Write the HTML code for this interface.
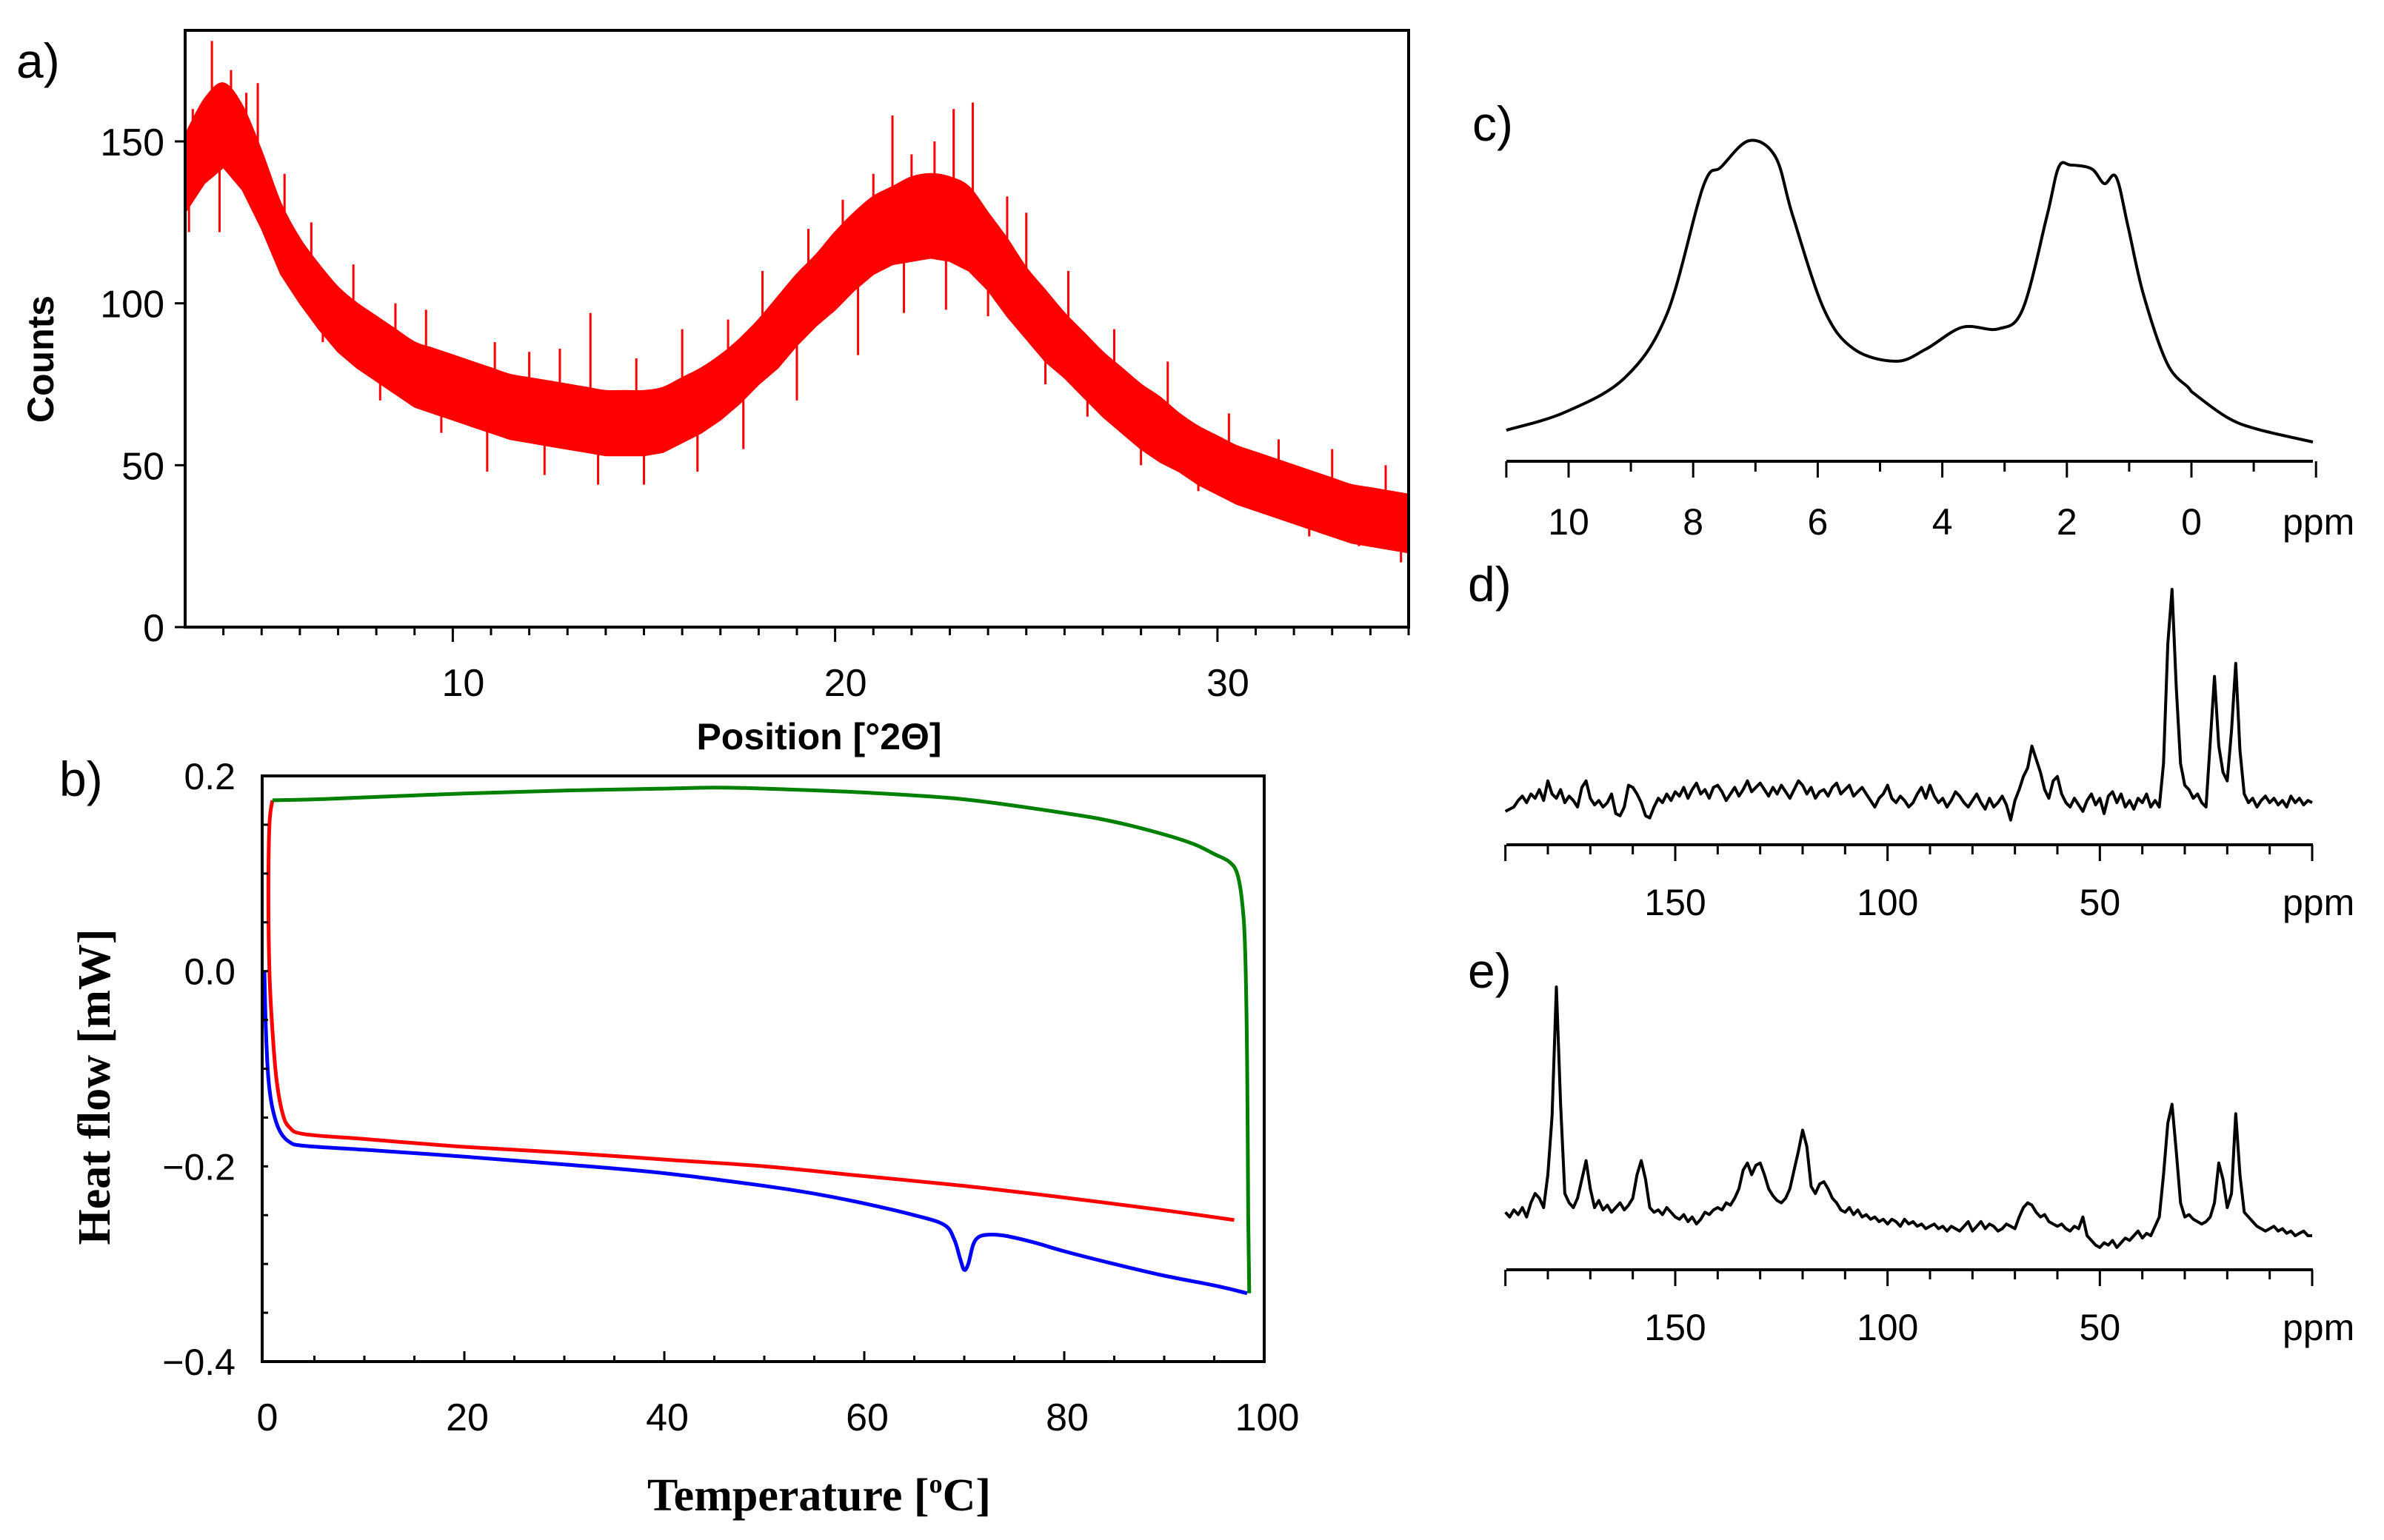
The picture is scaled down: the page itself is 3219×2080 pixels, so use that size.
<!DOCTYPE html>
<html><head><meta charset="utf-8"><style>
html,body{margin:0;padding:0;background:#fff}
svg{display:block}
.sans{font-family:"Liberation Sans",sans-serif}
.serif{font-family:"Liberation Serif",serif}
</style></head><body>
<svg id="fig" width="3219" height="2080" viewBox="0 0 3219 2080" xmlns="http://www.w3.org/2000/svg">
<rect width="3219" height="2080" fill="#fff"/>
<text class="sans" x="22" y="105" font-size="66">a)</text>
<text class="sans" x="80" y="1075" font-size="66">b)</text>
<text class="sans" x="1988" y="190" font-size="66">c)</text>
<text class="sans" x="1982" y="812" font-size="66">d)</text>
<text class="sans" x="1982" y="1334" font-size="66">e)</text>
<text class="sans" font-weight="bold" font-size="50" text-anchor="middle" transform="translate(72,485) rotate(-90)">Counts</text>
<text class="sans" font-weight="bold" font-size="50" text-anchor="middle" x="1106" y="1012">Position [°2Θ]</text>
<text class="serif" font-weight="bold" font-size="62" text-anchor="middle" transform="translate(148,1468) rotate(-90)">Heat flow [mW]</text>
<text class="serif" font-weight="bold" font-size="62" text-anchor="middle" x="1106" y="2040">Temperature [<tspan font-size="36" dy="-24">o</tspan><tspan dy="24">C]</tspan></text>
<g id="g"></g>
</svg>
<script>
// ---------- XRD data (panel a) ----------
const xrdPos = [3,3.5,4,4.5,5,5.5,6,6.5,7,7.5,8,8.5,9,9.5,10,10.5,11,11.5,12,12.5,13,13.5,14,14.5,15,15.5,16,16.5,17,17.5,18,18.5,19,19.5,20,20.5,21,21.5,22,22.5,23,23.5,24,24.5,25,25.5,26,26.5,27,27.5,28,28.5,29,29.5,30,30.5,31,31.5,32,32.5,33,33.5,34,34.5,35];
const xrdMean = [140,150,155,148,135,120,110,102,95,90,86,82,78,76,74,72,70,68,67,66,65,64,63,63,63,64,67,70,74,79,85,91,98,104,110,116,121,124,126,127,126,123,116,108,100,93,87,81,75,70,65,61,57,53,50,47,45,43,41,39,37,35,34,33,32];
const xrdSpread = [12,13,13,13,12,11,10,10,10,10,10,10,10,10,10,10,10,10,10,10,10,10,10,10,10,10,10,10,10,10,10,11,11,11,12,12,12,12,13,13,13,13,12,12,11,11,10,10,10,10,10,10,9,9,9,9,9,9,9,9,9,9,9,9,9];
const xrdSpikeX = [3.2,3.7,4.2,4.6,4.9,5.6,6.3,7.4,8.5,9.3,11.1,12.0,12.8,13.6,14.8,16.0,17.2,18.1,19.3,20.2,21.0,21.5,22.0,22.6,23.1,23.6,24.5,25.0,26.1,27.3,28.7,30.3,31.6,33.0,34.4];
const xrdSpikeY = [160,181,172,165,168,140,125,112,100,98,88,85,86,97,83,92,95,110,123,132,140,158,146,150,160,162,133,128,110,92,82,66,58,55,50];
const xrdDipX = [3.1,3.9,5.2,6.6,8.1,9.7,10.9,12.4,13.8,15.0,16.4,17.6,19.0,20.6,21.8,22.9,24.0,25.5,26.6,28.0,29.5,31.0,32.4,33.7,34.8];
const xrdDipY = [122,122,120,88,70,60,48,47,44,44,48,55,70,84,97,98,96,75,65,50,42,36,28,25,20];
const xrdXTicks = [10,20,30];
const xrdYTicks = [0,50,100,150];
// ---------- DSC data (panel b) ----------
const greenT = [0.8,5,10,20,30,40,45,50,60,70,80,85,90,93,95,96.5,97.3,97.8,98.1,98.3,98.4,98.5];
const greenH = [0.175,0.176,0.178,0.182,0.185,0.187,0.188,0.187,0.183,0.176,0.162,0.153,0.14,0.13,0.12,0.112,0.1,0.07,0.02,-0.1,-0.25,-0.33];
const redT = [0.8,0.5,0.4,0.5,0.8,1.2,1.8,2.5,4,10,20,30,40,50,60,70,80,90,97];
const redH = [0.175,0.15,0.08,0,-0.06,-0.11,-0.145,-0.16,-0.167,-0.172,-0.18,-0.186,-0.193,-0.2,-0.21,-0.22,-0.232,-0.245,-0.255];
const blueT = [0,0.15,0.4,0.8,1.5,2.5,4,10,20,30,40,50,55,60,65,68,69,69.6,70,70.4,70.9,71.5,72.5,74,77,80,85,90,95,98.3];
const blueH = [0,-0.06,-0.11,-0.14,-0.163,-0.175,-0.179,-0.183,-0.19,-0.198,-0.207,-0.22,-0.228,-0.238,-0.25,-0.26,-0.275,-0.295,-0.306,-0.3,-0.28,-0.272,-0.27,-0.271,-0.278,-0.287,-0.3,-0.312,-0.322,-0.33];
const dscXTicks = [0,20,40,60,80,100];
const dscYTicks = [0.2,0.0,-0.2,-0.4];
const dscYLabels = ["0.2","0.0","\u22120.2","\u22120.4"];
// ---------- 1H NMR (panel c) ----------
const hPpm = [11,10.07,9.1,8.42,7.84,7.55,7.1,6.68,6.4,5.9,5.42,4.74,4.26,3.68,3.1,2.71,2.32,2.13,1.94,1.6,1.4,1.21,1.02,0.77,0.39,0.05,-0.05,-0.58,-1.06,-1.95];
const hInt = [9.7,15.2,26,46,85.7,91.8,100,95,76.5,47.4,35,31.2,35,41.8,41.3,47.4,76.5,91.8,92.4,91.2,86.6,88.7,73.4,52,30.5,23,21,13.6,10,6];
const hTicks = [10,8,6,4,2,0];
// ---------- 13C NMR (panels d, e), ppm 190 -> 0 step 1 ----------
const dInt = [-2,-1,0,3,5,2,6,4,8,3, 12,6,4,8,2,5,3,0,9,12, 4,1,3,0,2,6,-3,-4,0,10, 9,6,2,-4,-5,0,4,2,6,3, 7,5,9,4,8,11,6,8,4,9, 10,7,3,6,9,5,8,12,7,9, 11,8,5,9,6,10,7,4,8,12, 10,6,9,4,7,8,5,9,11,6, 8,10,5,7,9,6,3,0,4,6, 10,4,2,5,3,0,2,6,9,4, 10,5,2,4,0,3,7,5,2,0, 3,6,2,-1,4,0,2,5,1,-6, 3,8,14,18,28,22,16,8,4,12, 14,6,2,0,4,1,-2,3,6,1, 4,-3,5,7,2,6,0,3,-1,4, 2,6,0,3,0,20,75,100,55,20, 10,8,4,6,2,0,30,60,28,16, 12,35,66,26,6,2,4,0,3,5, 2,4,1,3,0,5,2,4,1,3,2];
const eInt = [4,2,5,3,6,2,8,12,10,6, 20,45,100,50,12,8,6,10,18,26, 14,6,9,5,7,4,6,8,5,7, 10,20,26,18,6,4,5,3,6,4, 2,1,3,0,2,-1,1,4,3,5, 6,5,8,7,10,14,22,25,20,24, 25,20,14,11,9,8,10,14,22,30, 39,32,15,12,16,17,14,10,8,5, 4,6,3,5,2,3,1,2,0,1, -1,1,0,-2,1,-1,0,-2,-1,-3, -2,-1,-3,-2,-4,-2,-3,-4,-2,0, -4,-2,0,-3,-1,-2,-4,-3,-1,-2, -3,2,6,8,7,4,2,3,0,-1, -2,-1,-3,-4,-2,-3,2,-6,-8,-10, -11,-9,-10,-8,-11,-9,-7,-8,-6,-4, -7,-5,-6,-2,2,20,42,50,30,8, 2,3,1,0,-1,0,2,8,25,18, 6,12,46,20,4,2,0,-2,-3,-4, -3,-2,-4,-3,-5,-4,-6,-5,-4,-6,-6];
const cTicks = [150,100,50];

const NS='http://www.w3.org/2000/svg';
const G=document.getElementById('g');
function mk(tag,attrs){const e=document.createElementNS(NS,tag);for(const k in attrs)e.setAttribute(k,attrs[k]);G.appendChild(e);return e;}
function lin(d0,d1,r0,r1){return v=>r0+(v-d0)*(r1-r0)/(d1-d0);}
function poly(xs,ys){return xs.map((x,i)=>(i?'L':'M')+x.toFixed(1)+' '+ys[i].toFixed(1)).join('');}
function smooth(P){let d='M'+P[0][0]+' '+P[0][1];for(let i=0;i<P.length-1;i++){const p0=P[Math.max(i-1,0)],p1=P[i],p2=P[i+1],p3=P[Math.min(i+2,P.length-1)];d+='C'+(p1[0]+(p2[0]-p0[0])/6).toFixed(1)+' '+(p1[1]+(p2[1]-p0[1])/6).toFixed(1)+' '+(p2[0]-(p3[0]-p1[0])/6).toFixed(1)+' '+(p2[1]-(p3[1]-p1[1])/6).toFixed(1)+' '+p2[0].toFixed(1)+' '+p2[1].toFixed(1);}return d;}
function meanAt(s){const i=Math.min(xrdMean.length-1,Math.max(0,Math.round((s-3)*2)));return xrdMean[i];}
let el;

// ===== Panel a =====
const ax=lin(3,35,250,1902), ay=lin(0,150,847,191);
{
 const up=xrdPos.map((p,i)=>[ax(p),ay(xrdMean[i]+xrdSpread[i])]);
 const lo=xrdPos.map((p,i)=>[ax(p),ay(xrdMean[i]-xrdSpread[i])]).reverse();
 el=mk('path',{d:smooth(up)+'L'+lo.map(p=>p[0].toFixed(1)+' '+p[1].toFixed(1)).join('L')+'Z',fill:'#ff0000',stroke:'#ff0000','stroke-width':2});
 
 
 xrdSpikeX.forEach((s,i)=>{
  el=mk('line',{x1:ax(s),x2:ax(s),y1:ay(meanAt(s)),y2:ay(xrdSpikeY[i]),stroke:'#ff0000','stroke-width':3});
  
  
 });
 xrdDipX.forEach((s,i)=>{
  el=mk('line',{x1:ax(s),x2:ax(s),y1:ay(meanAt(s)),y2:ay(xrdDipY[i]),stroke:'#ff0000','stroke-width':3});
  
  
 });
 el=mk('rect',{x:250,y:41,width:1652,height:806,fill:'none',stroke:'#000','stroke-width':4});
 
 
 for(let v=4;v<=35;v++){
  const major=xrdXTicks.includes(v);
  el=mk('line',{x1:ax(v),x2:ax(v),y1:847,y2:847+(major?20:11),stroke:'#000','stroke-width':3});
  
  
 }
 xrdXTicks.forEach(v=>{
  el=mk('text',{x:ax(v)+14,y:940,'font-size':52,'text-anchor':'middle',class:'sans'});el.textContent=v;
  
  
 });
 xrdYTicks.forEach(v=>{
  el=mk('line',{x1:236,x2:250,y1:ay(v),y2:ay(v),stroke:'#000','stroke-width':3});
  
  
  el=mk('text',{x:222,y:ay(v)+19,'font-size':52,'text-anchor':'end',class:'sans'});el.textContent=v;
  
  
 });
}

// ===== Panel b =====
const bx=lin(0,100,357,1707), by=lin(0.2,-0.4,1048,1839);
{
 [[redT,redH,'#ff0000','dsc-red-curve'],[blueT,blueH,'#0000ff','dsc-blue-curve'],[greenT,greenH,'#008000','dsc-green-curve']].forEach(s=>{
  el=mk('path',{d:smooth(s[0].map((t,i)=>[bx(t),by(s[1][i])])),fill:'none',stroke:s[2],'stroke-width':5,'stroke-linejoin':'round'});
  
  
 });
 el=mk('rect',{x:354,y:1048,width:1353,height:791,fill:'none',stroke:'#000','stroke-width':4});
 
 
 for(let v=5;v<100;v+=5){
  const major=v%20===0;
  el=mk('line',{x1:bx(v),x2:bx(v),y1:1839,y2:1839-(major?14:8),stroke:'#000','stroke-width':3});
  
  
 }
 dscXTicks.forEach(v=>{
  el=mk('text',{x:bx(v)+4,y:1932,'font-size':52,'text-anchor':'middle',class:'sans'});el.textContent=v;
  
  
 });
 for(let v=-0.35;v<0.2;v+=0.05){
  el=mk('line',{x1:354,x2:362,y1:by(v),y2:by(v),stroke:'#000','stroke-width':3});
  
  
 }
 dscYTicks.forEach((v,i)=>{
  el=mk('text',{x:318,y:by(v)+18,'font-size':50,'text-anchor':'end',class:'sans'});el.textContent=dscYLabels[i];
  
  
 });
}

// ===== Panel c =====
const cx=lin(10,0,2118,2959), cy=v=>623-v*4.33;
{
 el=mk('path',{d:smooth(hPpm.map((p,i)=>[cx(p),cy(hInt[i])])),fill:'none',stroke:'#000','stroke-width':4});
 
 
 el=mk('line',{x1:2034,x2:3123,y1:623,y2:623,stroke:'#000','stroke-width':4});
 
 
 for(let v=11;v>=-2;v--){
  el=mk('line',{x1:cx(v),x2:cx(v),y1:623,y2:(v%2===0||v===11||v===-2)?645:637,stroke:'#000','stroke-width':3});
  
  
 }
 hTicks.forEach(v=>{
  el=mk('text',{x:cx(v),y:722,'font-size':50,'text-anchor':'middle',class:'sans'});el.textContent=v;
  
  
 });
 el=mk('text',{x:3082,y:722,'font-size':50,class:'sans'});el.textContent='ppm';
 
 
}

// ===== Panels d, e =====
function carbon(data,base,scale,axisY,prefix){
 const x=lin(0,150,3122,2262);
 const xs=data.map((_,i)=>x(190-i)), ys=data.map(v=>base-v*scale);
 el=mk('path',{d:poly(xs,ys),fill:'none',stroke:'#000','stroke-width':4,'stroke-linejoin':'round'});
 
 
 el=mk('line',{x1:2034,x2:3123,y1:axisY,y2:axisY,stroke:'#000','stroke-width':4});
 
 
 for(let v=0;v<=190;v+=10){
  el=mk('line',{x1:x(v),x2:x(v),y1:axisY,y2:axisY+(v%50===0||v===190?22:13),stroke:'#000','stroke-width':3});
  
  
 }
 cTicks.forEach(v=>{
  el=mk('text',{x:x(v),y:axisY+95,'font-size':50,'text-anchor':'middle',class:'sans'});el.textContent=v;
  
  
 });
 el=mk('text',{x:3082,y:axisY+95,'font-size':50,class:'sans'});el.textContent='ppm';
 
 
}
carbon(dInt,1090,2.94,1141,'c-nmr-d');
carbon(eInt,1650,3.17,1715,'c-nmr-e');
</script>
</body></html>
